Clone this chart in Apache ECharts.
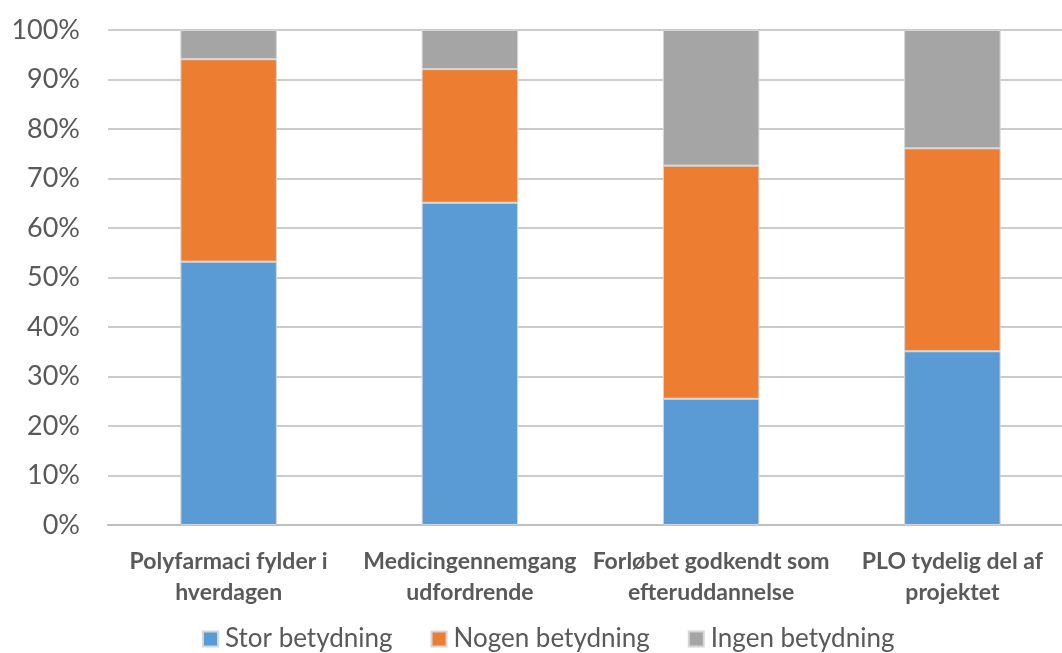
<!DOCTYPE html>
<html>
<head>
<meta charset="utf-8">
<script src="https://cdn.jsdelivr.net/npm/echarts@6/dist/echarts.min.js"></script>
<style>
  html, body { margin: 0; padding: 0; background: #ffffff; overflow: hidden; }
  /* canvas a little wider than the window so the last column of the plot runs off the right edge */
  #chart { width: 1073px; height: 653px; }
</style>
</head>
<body>
<div id="chart"></div>
<script>
// Survey answers per statement, share of respondents (%)
const categories = [
  'Polyfarmaci fylder i\nhverdagen',
  'Medicingennemgang\nudfordrende',
  'Forløbet godkendt som\nefteruddannelse',
  'PLO tydelig del af\nprojektet'
];
const storBetydning  = [53.2, 65.1, 25.5, 35.1];
const nogenBetydning = [40.9, 27.0, 47.1, 41.0];
const ingenBetydning = [5.9, 7.9, 27.4, 23.9];
const yTicks = [0, 10, 20, 30, 40, 50, 60, 70, 80, 90, 100];

const FONT = 'Lato';
const TEXT = '#595959';

const chart = echarts.init(document.getElementById('chart'));

function barSeries(name, data, color) {
  return {
    name: name,
    type: 'bar',
    stack: 'total',
    data: data,
    barWidth: '40%',
    itemStyle: { color: color, borderColor: '#d6d6d6', borderWidth: 1 },
    emphasis: { disabled: true }
  };
}

chart.setOption({
  animation: false,
  textStyle: { fontFamily: FONT },
  grid: { left: 108, right: 0, top: 30, height: 495, containLabel: false },
  legend: {
    top: 621,
    left: 197,
    icon: 'rect',
    itemWidth: 15,
    itemHeight: 15,
    itemGap: 38,
    textStyle: { fontFamily: FONT, fontSize: 26, color: TEXT, padding: [0, 0, 0, 2] },
    data: ['Stor betydning', 'Nogen betydning', 'Ingen betydning']
  },
  xAxis: {
    type: 'category',
    data: categories,
    axisLine: { lineStyle: { color: '#bfbfbf', width: 2 } },
    axisTick: { show: false },
    axisLabel: {
      interval: 0,
      margin: 21,
      fontFamily: FONT,
      fontWeight: 'bold',
      fontSize: 23,
      lineHeight: 31,
      color: TEXT
    }
  },
  yAxis: {
    type: 'value',
    min: yTicks[0],
    max: yTicks[yTicks.length - 1],
    interval: yTicks[1] - yTicks[0],
    axisLine: { show: false },
    axisTick: { show: false },
    splitLine: { lineStyle: { color: '#cccccc', width: 2 } },
    axisLabel: {
      margin: 28,
      fontFamily: FONT,
      fontSize: 27,
      color: TEXT,
      formatter: v => v + '%'
    }
  },
  series: [
    barSeries('Stor betydning', storBetydning, '#5B9BD5'),
    barSeries('Nogen betydning', nogenBetydning, '#ED7D31'),
    barSeries('Ingen betydning', ingenBetydning, '#A5A5A5')
  ]
});
</script>
</body>
</html>
